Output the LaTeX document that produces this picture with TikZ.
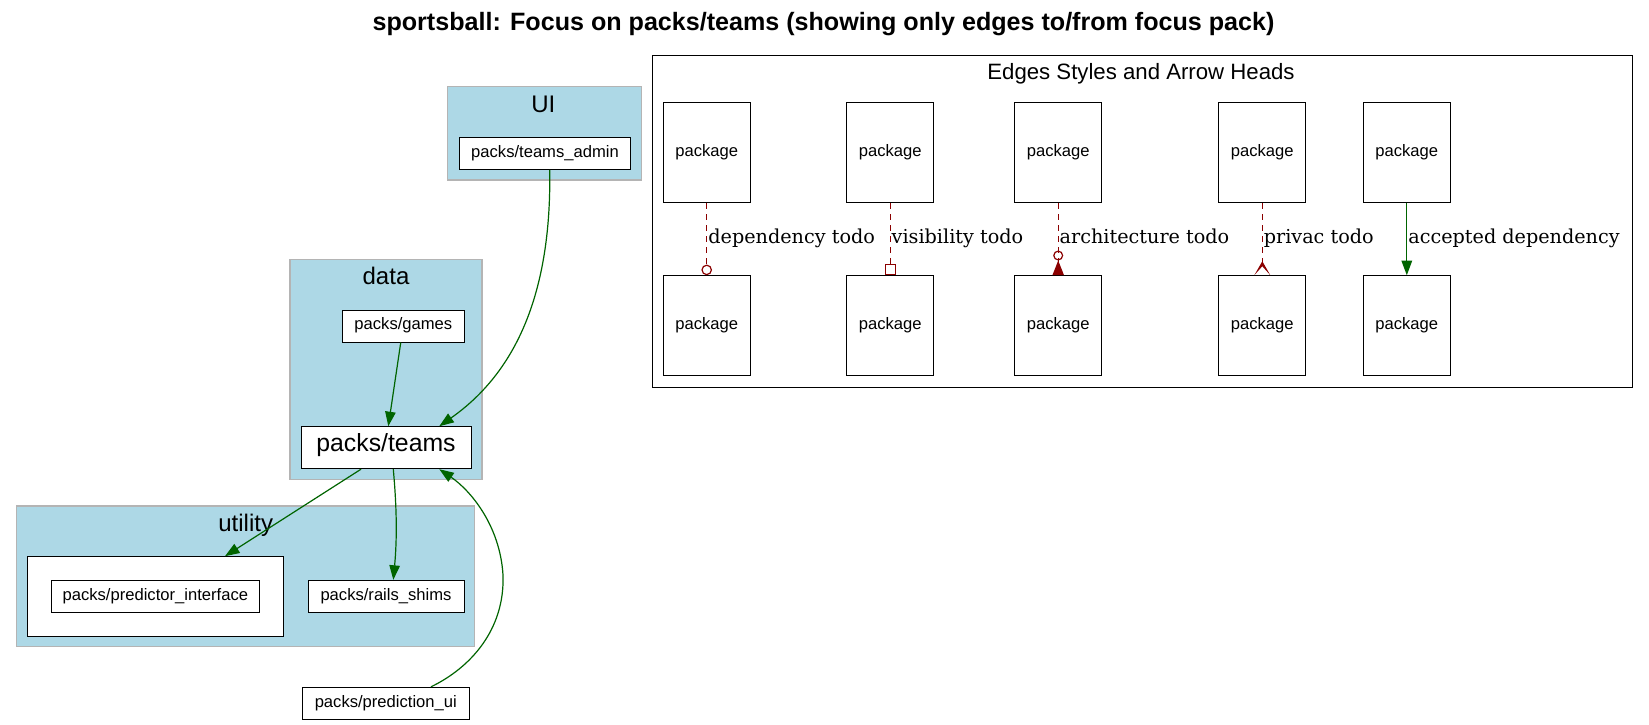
\documentclass[tikz,border=0pt]{standalone}
\usepackage{fontspec}
\setmainfont{Liberation Sans}
\newfontfamily\labelfont{DejaVu Serif}
\usetikzlibrary{arrows.meta}
\definecolor{dgreen}{HTML}{006400}
\definecolor{dred}{HTML}{8B0000}
\definecolor{clfill}{HTML}{ADD8E6}
\definecolor{clborder}{HTML}{B4B4B4}
\begin{document}
\begin{tikzpicture}[x=1pt,y=-1pt,
  pkg/.style={draw=black, line width=1pt, fill=white, inner sep=0pt,
    font=\fontsize{16.6}{20}\selectfont, text height=0.78em, text depth=0em},
  bigpkg/.style={pkg, font=\fontsize{24.8}{30}\selectfont},
  cluster/.style={draw=clborder, line width=1.2pt, fill=clfill, inner sep=0pt},
  cllabel/.style={anchor=base, inner sep=0pt, font=\fontsize{24}{29}\selectfont},
  depedge/.style={dgreen, line width=1.2pt, -{Triangle[length=14.5pt,width=10.5pt]}},
  todoedge/.style={dred, line width=1.2pt, dash pattern=on 6pt off 5pt},
  edgelab/.style={anchor=base west, inner sep=0pt, font=\labelfont\fontsize{19.2}{23}\selectfont},
]
\useasboundingbox (0,0) rectangle (1649,724);
\fill[white] (0,0) rectangle (1649,724);

% title
\node[anchor=base, inner sep=0pt, font=\bfseries\fontsize{25.1}{30}\selectfont] (title) at (823.5,30.5)
  {sportsball: Focus on packs/teams (showing only edges to/from focus pack)};

% clusters
\node[cluster, minimum width=194.4pt, minimum height=93.3pt] (uicl) at (544.5,133.35) {};
\node[cllabel] (uilab) at (543.3,112.3) {UI};
\node[cluster, minimum width=192pt, minimum height=220pt] (datacl) at (386,369.3) {};
\node[cllabel] (datalab) at (386,284.3) {data};
\node[cluster, minimum width=458.4pt, minimum height=140.3pt] (utilcl) at (245.5,576.15) {};
\node[cllabel] (utillab) at (245.7,531.7) {utility};
\node[draw=black, line width=1pt, fill=white, inner sep=0pt, minimum width=255.6pt, minimum height=79.3pt] (piwrap) at (155.5,596.35) {};

% packages
\node[pkg, minimum width=171.4pt, minimum height=32pt] (admin) at (545,153.3) {packs/teams\_admin};
\node[pkg, minimum width=121.3pt, minimum height=32pt] (games) at (403.35,326) {packs/games};
\node[bigpkg, minimum width=170pt, minimum height=42pt] (teams) at (386,447.7) {packs/teams};
\node[pkg, minimum width=208.7pt, minimum height=32pt] (predint) at (155.35,596.3) {packs/predictor\_interface};
\node[pkg, minimum width=156pt, minimum height=32pt] (rails) at (386,596.3) {packs/rails\_shims};
\node[pkg, minimum width=167pt, minimum height=32pt] (predui) at (385.8,703.3) {packs/prediction\_ui};

% edges
\draw[depedge] ([xshift=4.7pt]admin.south) .. controls (552,310) and (505,380) .. ([xshift=53.3pt]teams.north);
\draw[depedge] ([xshift=-2.6pt]games.south) -- ([xshift=2.3pt]teams.north);
\draw[depedge] ([xshift=-25pt]teams.south) -- ([xshift=69.5pt]piwrap.north);
\draw[depedge] ([xshift=7.3pt]teams.south) .. controls (397,510) and (397,540) .. ([xshift=7.3pt]rails.north);
\draw[depedge] ([xshift=45.2pt]predui.north) .. controls (470,668) and (505,630) .. (503,575)
  .. controls (500,525) and (470,490) .. ([xshift=53.3pt]teams.south);

% legend
\node[draw=black, line width=1pt, inner sep=0pt, minimum width=980pt, minimum height=332pt] (legend) at (1142,221) {};
\node[anchor=base, inner sep=0pt, font=\fontsize{22.2}{27}\selectfont] (legtitle) at (1141,79.3) {Edges Styles and Arrow Heads};

\foreach \i/\x in {1/706.7, 2/890.2, 3/1058.2, 4/1262.3, 5/1406.8} {
  \node[pkg, minimum width=86.7pt, minimum height=100pt] (l\i t) at (\x,152.7) {package};
  \node[pkg, minimum width=86.7pt, minimum height=100pt] (l\i b) at (\x,325.7) {package};
}

\draw[todoedge, -{Circle[open,length=10.6pt,width=10.6pt]}] (l1t.south) -- (l1b.north);
\draw[todoedge, -{Square[open,length=11.4pt,width=11.4pt]}] (l2t.south) -- (l2b.north);
\draw[todoedge, -{Circle[open,length=10pt,width=10pt,sep=0pt] Triangle[reversed,length=14.7pt,width=11.3pt]}] (l3t.south) -- (l3b.north);
\draw[todoedge, -{Stealth[reversed,length=14pt,width=16pt,inset=9pt]}] (l4t.south) -- (l4b.north);
\draw[dgreen, line width=1.2pt, -{Triangle[length=14.7pt,width=10.7pt]}] (l5t.south) -- (l5b.north);

\node[edgelab] (lab1) at (708.2,243.3) {dependency todo};
\node[edgelab] (lab2) at (891.5,243.3) {visibility todo};
\node[edgelab] (lab3) at (1059.5,243.3) {architecture todo};
\node[edgelab] (lab4) at (1263.6,243.3) {privac todo};
\node[edgelab] (lab5) at (1408.1,243.3) {accepted dependency};
\end{tikzpicture}
\end{document}
